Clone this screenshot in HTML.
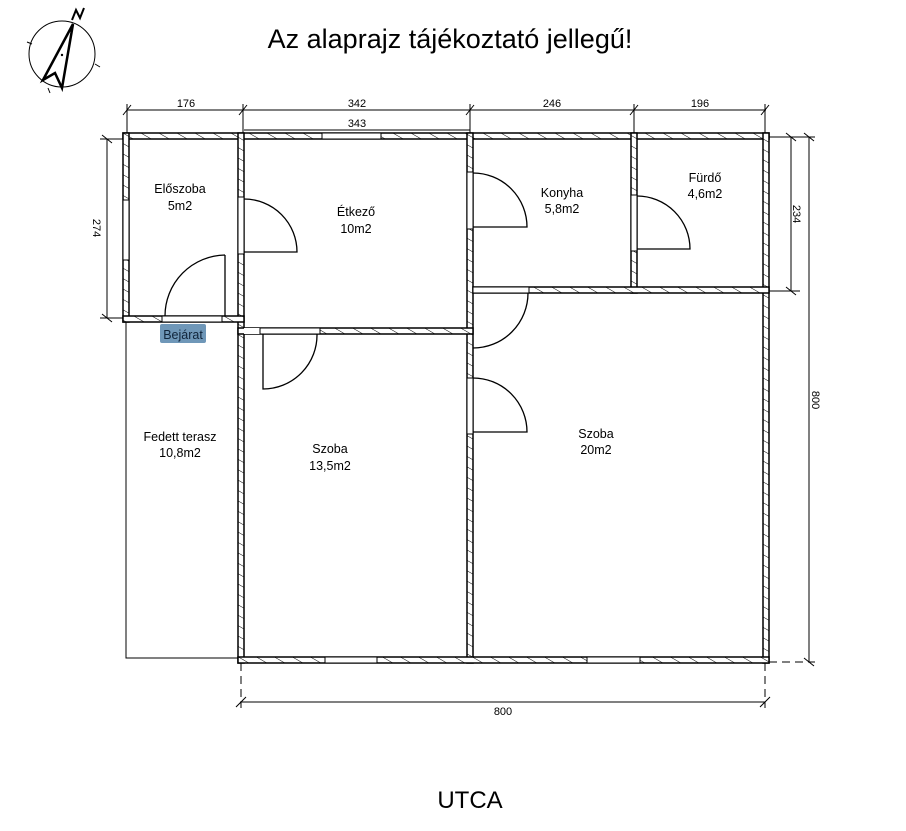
<!DOCTYPE html>
<html><head><meta charset="utf-8"><style>
html,body{margin:0;padding:0;background:#fff;}
svg{display:block;font-family:"Liberation Sans",sans-serif;}
</style></head><body>
<svg width="906" height="831" viewBox="0 0 906 831" xmlns="http://www.w3.org/2000/svg">
<defs>
<pattern id="h" width="9" height="9" patternUnits="userSpaceOnUse" patternTransform="rotate(-60)">
<rect width="9" height="9" fill="#fff"/><line x1="0" y1="0" x2="0" y2="9" stroke="#000" stroke-width="1"/>
</pattern>
</defs>
<rect width="906" height="831" fill="#fff"/>
<text x="450" y="48" font-size="27" text-anchor="middle">Az alaprajz tájékoztató jellegű!</text>
<text x="470" y="808" font-size="24" text-anchor="middle">UTCA</text>

<!-- compass -->
<g stroke="#000" fill="none">
<circle cx="62" cy="54" r="33" stroke-width="1"/>
<polygon points="73,24 62,88 55,73 43,80" stroke-width="2.5"/>
<path d="M72,20 L76,10 L80,18 L84,8" stroke-width="2"/>
<line x1="27" y1="42" x2="32" y2="44"/><line x1="95" y1="64" x2="100" y2="67"/><line x1="48" y1="88" x2="50" y2="93"/>
</g>
<circle cx="62" cy="55" r="1.2" fill="#000"/>

<!-- terrace -->
<rect x="126" y="322" width="113" height="336" fill="none" stroke="#000" stroke-width="1"/>

<!-- walls -->
<g fill="url(#h)" stroke="#000" stroke-width="1.5">
<rect x="123" y="133" width="646" height="6"/>
<rect x="123" y="133" width="6" height="189"/>
<rect x="238" y="133" width="6" height="530"/>
<rect x="467" y="133" width="6" height="530"/>
<rect x="631" y="133" width="6" height="160"/>
<rect x="763" y="133" width="6" height="530"/>
<rect x="123" y="316" width="121" height="6"/>
<rect x="238" y="328" width="235" height="6"/>
<rect x="473" y="287" width="296" height="6"/>
<rect x="238" y="657" width="531" height="6"/>
</g>
<!-- windows / openings -->
<g fill="#fff" stroke="#000" stroke-width="1">
<rect x="322" y="133" width="59" height="6"/>
<rect x="325" y="657" width="52" height="6"/>
<rect x="587" y="657" width="53" height="6"/>
<rect x="123" y="200" width="6" height="60"/>
<rect x="162" y="316" width="60" height="6"/>
<rect x="244" y="328" width="18" height="6" stroke="none"/>
<rect x="260" y="328" width="60" height="6"/>
<rect x="473" y="287" width="56" height="6"/>
<rect x="238" y="197" width="6" height="57"/>
<rect x="467" y="172" width="6" height="57"/>
<rect x="631" y="195" width="6" height="56"/>
<rect x="467" y="378" width="6" height="56"/>
</g>

<!-- doors -->
<g fill="none" stroke="#000" stroke-width="1.3">
<path d="M244,199 A53,53 0 0 1 297,252 L244,252"/>
<path d="M225,255 L225,316 M225,255 A61,61 0 0 0 165,316"/>
<path d="M473,173 A54,54 0 0 1 527,227 L473,227"/>
<path d="M637,196 A53,53 0 0 1 690,249 L637,249"/>
<path d="M528,293 A55,55 0 0 1 473,348"/>
<path d="M473,378 A54,54 0 0 1 527,432 L473,432"/>
<path d="M263,334 L263,389 A54,54 0 0 0 317,334"/>
</g>

<!-- dimensions -->
<g stroke="#000" stroke-width="1" fill="none">
<line x1="127" y1="110" x2="766" y2="110"/>
<line x1="244" y1="130" x2="470" y2="130"/>
<line x1="127" y1="104" x2="127" y2="133"/>
<line x1="243" y1="104" x2="243" y2="133"/>
<line x1="470" y1="104" x2="470" y2="133"/>
<line x1="634" y1="104" x2="634" y2="133"/>
<line x1="765" y1="104" x2="765" y2="133"/>
<path d="M123,115 l8,-10 M239,115 l8,-10 M466,115 l8,-10 M630,115 l8,-10 M761,115 l8,-10"/>
<line x1="107" y1="139" x2="107" y2="318"/>
<line x1="100" y1="139" x2="123" y2="139"/><line x1="100" y1="318" x2="123" y2="318"/>
<path d="M102,135 l10,8 M102,314 l10,8"/>
<line x1="791" y1="137" x2="791" y2="291"/>
<line x1="769" y1="137" x2="800" y2="137"/><line x1="769" y1="291" x2="800" y2="291"/>
<path d="M786,133 l10,8 M786,287 l10,8"/>
<line x1="809" y1="137" x2="809" y2="662"/>
<line x1="800" y1="137" x2="815" y2="137"/>
<line x1="769" y1="662" x2="815" y2="662" stroke-dasharray="8,5"/>
<path d="M804,133 l10,8 M804,658 l10,8"/>
<line x1="240" y1="702" x2="765" y2="702"/>
<line x1="241" y1="663" x2="241" y2="708" stroke-dasharray="8,5"/>
<line x1="765" y1="663" x2="765" y2="708" stroke-dasharray="8,5"/>
<path d="M236,707 l10,-10 M760,707 l10,-10"/>
</g>
<g font-size="11" text-anchor="middle" fill="#000">
<text x="186" y="107">176</text>
<text x="357" y="107">342</text>
<text x="357" y="127">343</text>
<text x="552" y="107">246</text>
<text x="700" y="107">196</text>
<text x="503" y="715">800</text>
<text transform="translate(93,228) rotate(90)">274</text>
<text transform="translate(793,214) rotate(90)">234</text>
<text transform="translate(812,400) rotate(90)">800</text>
</g>

<!-- labels -->
<g font-size="12.5" text-anchor="middle" fill="#000">
<text x="180" y="193">Előszoba</text><text x="180" y="210">5m2</text>
<text x="356" y="216">Étkező</text><text x="356" y="233">10m2</text>
<text x="562" y="197">Konyha</text><text x="562" y="213">5,8m2</text>
<text x="705" y="182">Fürdő</text><text x="705" y="198">4,6m2</text>
<text x="180" y="441">Fedett terasz</text><text x="180" y="457">10,8m2</text>
<text x="330" y="453">Szoba</text><text x="330" y="470">13,5m2</text>
<text x="596" y="438">Szoba</text><text x="596" y="454">20m2</text>
</g>
<rect x="160" y="324" width="46" height="19" rx="2" fill="#6f97b8"/>
<text x="183" y="339" font-size="12.5" text-anchor="middle" fill="#10243a">Bejárat</text>
</svg>
</body></html>
